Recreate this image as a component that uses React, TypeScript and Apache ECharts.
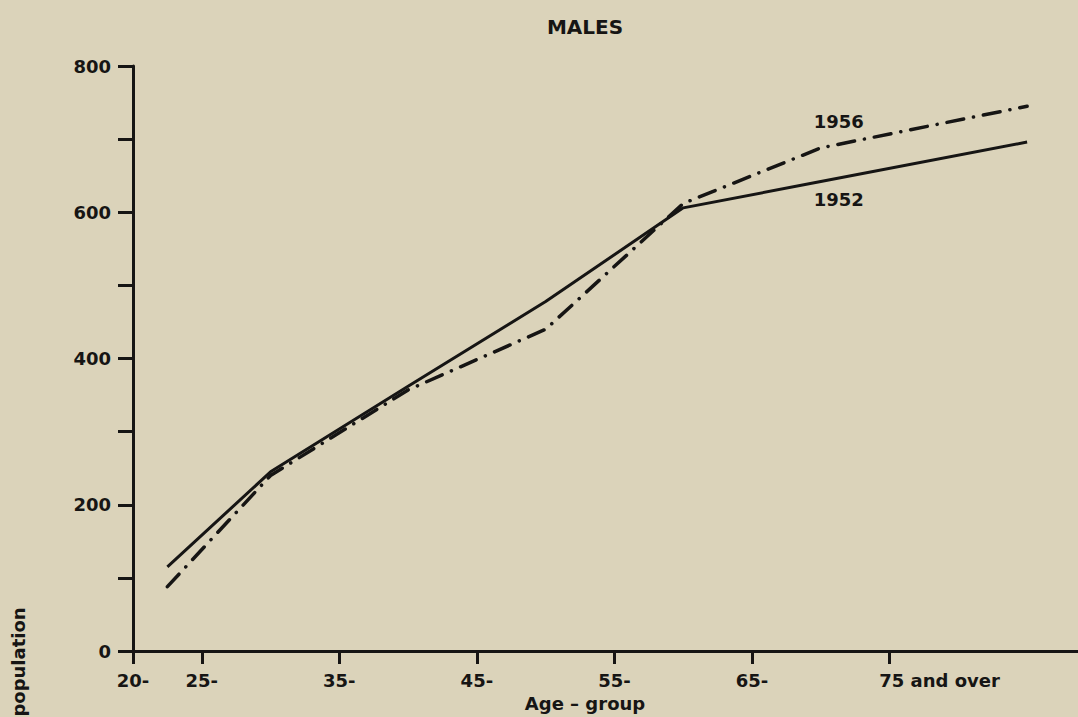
import React, { useEffect, useRef } from "react";
import * as echarts from "echarts";

// Age-group ticks on the x axis (age in years where each group starts)
const tickAges = [20, 25, 35, 45, 55, 65, 75];
const tickLabels = ["20-", "25-", "35-", "45-", "55-", "65-", "75 and over"];

// Points plotted at the mid-age of each group
const pointAges = [22.5, 30, 40, 50, 60, 70, 85];
const males1952 = [115, 245, 362, 478, 606, 642, 696];
const males1956 = [88, 240, 357, 440, 612, 688, 745];

const yLabelValues = [0, 200, 400, 600, 800];

const INK = "#161514";
const BG = "#dbd3ba";
const FONT = "DejaVu Sans";

export default function App() {
  const ref = useRef<HTMLDivElement>(null);

  useEffect(() => {
    if (!ref.current) return;
    const chart = echarts.init(ref.current, undefined, { renderer: "svg" });

    const text = { color: INK, fontFamily: FONT, fontWeight: "bold" as const, fontSize: 18 };

    chart.setOption({
      animation: false,
      backgroundColor: BG,
      title: {
        text: "MALES",
        left: 580,
        top: 12,
        textAlign: "center",
        textStyle: { ...text, fontSize: 20 },
      },
      grid: { left: 133, right: 0, top: 66, bottom: 66, containLabel: false },
      xAxis: {
        type: "value",
        min: 20,
        max: 88.7,
        axisLine: { show: true, lineStyle: { color: INK, width: 3 } },
        axisTick: { show: true, customValues: tickAges, length: 13, lineStyle: { color: INK, width: 3 } },
        axisLabel: {
          customValues: tickAges,
          ...text,
          margin: 20,
          formatter: (v: number) => {
            const i = tickAges.indexOf(v);
            if (i < 0) return "";
            if (i === tickLabels.length - 1) return "{w|" + tickLabels[i] + "}";
            return tickLabels[i];
          },
          rich: {
            w: { ...text, padding: [0, 0, 0, 100] },
          },
        },
        splitLine: { show: false },
      },
      yAxis: {
        type: "value",
        min: 0,
        max: 800,
        interval: 100,
        axisLine: { show: true, lineStyle: { color: INK, width: 3 } },
        axisTick: { show: true, length: 15, lineStyle: { color: INK, width: 3 } },
        axisLabel: {
          ...text,
          margin: 22,
          formatter: (v: number) => (yLabelValues.indexOf(v) >= 0 ? String(v) : ""),
        },
        splitLine: { show: false },
      },
      series: [
        {
          name: "1952",
          type: "line",
          showSymbol: false,
          symbol: "none",
          clip: false,
          data: pointAges.map((a, i) => [a, males1952[i]]),
          lineStyle: { color: INK, width: 3 },
          markPoint: {
            symbol: "circle",
            symbolSize: 1,
            itemStyle: { color: "transparent" },
            label: { show: true, formatter: "1952", offset: [18, 18], ...text },
            data: [{ coord: [pointAges[5], males1952[5]] }],
          },
        },
        {
          name: "1956",
          type: "line",
          showSymbol: false,
          symbol: "none",
          clip: false,
          data: pointAges.map((a, i) => [a, males1956[i]]),
          lineStyle: { color: INK, width: 3.5, type: [17, 10, 0.1, 10], cap: "round" },
          markPoint: {
            symbol: "circle",
            symbolSize: 1,
            itemStyle: { color: "transparent" },
            label: { show: true, formatter: "1956", offset: [18, -26], ...text },
            data: [{ coord: [pointAges[5], males1956[5]] }],
          },
        },
      ],
      graphic: [
        {
          type: "text",
          x: 585,
          y: 703,
          style: { text: "Age – group", ...text, fill: INK, align: "center", verticalAlign: "middle" },
        },
        {
          type: "text",
          x: 18,
          y: 662,
          rotation: Math.PI / 2,
          style: { text: "population", ...text, fill: INK, align: "center", verticalAlign: "middle" },
        },
      ],
    });

    return () => chart.dispose();
  }, []);

  return (
    <div
      ref={ref}
      style={{ position: "fixed", left: 0, top: 0, width: 1078, height: 717, background: BG }}
    />
  );
}
